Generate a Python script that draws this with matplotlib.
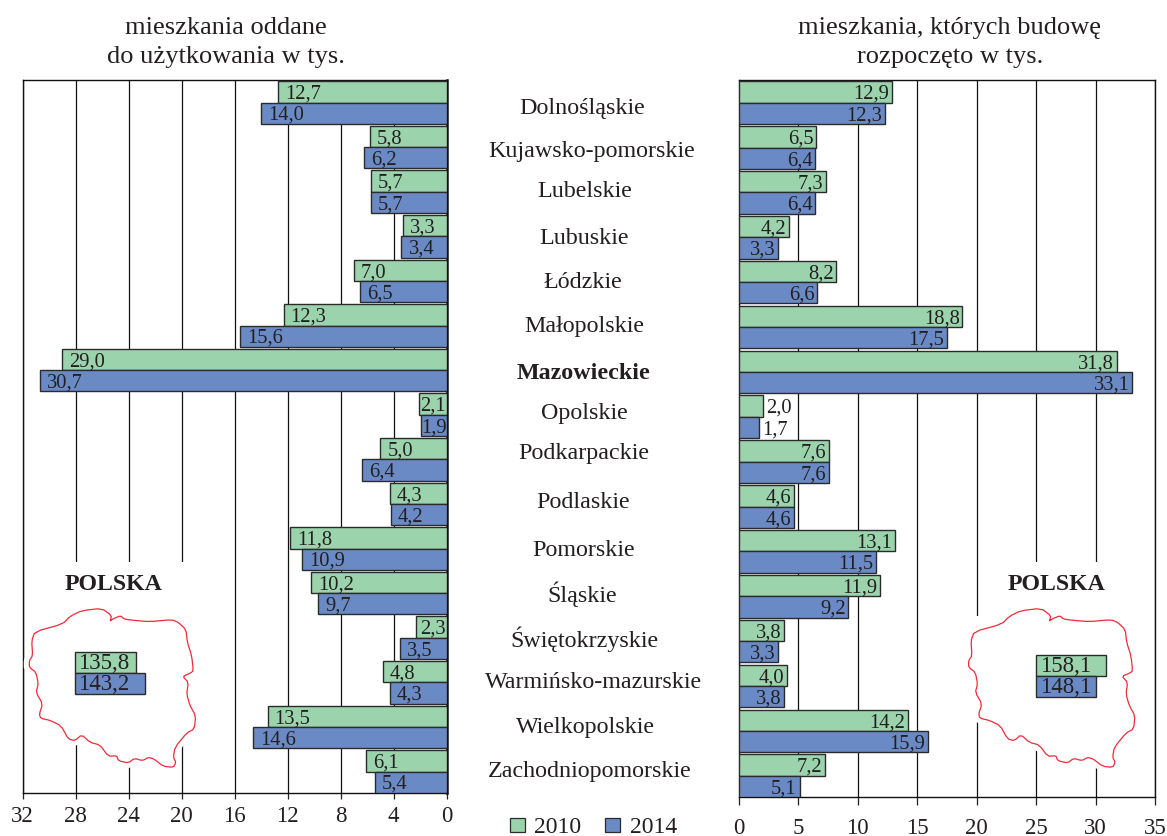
import matplotlib
matplotlib.use("Agg")
import matplotlib.pyplot as plt
from matplotlib.patches import Polygon, Rectangle

plt.rcParams['font.family'] = ['Liberation Serif', 'DejaVu Serif']

# ---- data ----
regions = ["Dolnośląskie", "Kujawsko-pomorskie", "Lubelskie", "Lubuskie", "Łódzkie",
           "Małopolskie", "Mazowieckie", "Opolskie", "Podkarpackie", "Podlaskie",
           "Pomorskie", "Śląskie", "Świętokrzyskie", "Warmińsko-mazurskie",
           "Wielkopolskie", "Zachodniopomorskie"]
finished_2010 = [12.7, 5.8, 5.7, 3.3, 7.0, 12.3, 29.0, 2.1, 5.0, 4.3, 11.8, 10.2, 2.3, 4.8, 13.5, 6.1]
finished_2014 = [14.0, 6.2, 5.7, 3.4, 6.5, 15.6, 30.7, 1.9, 6.4, 4.2, 10.9, 9.7, 3.5, 4.3, 14.6, 5.4]
started_2010 = [12.9, 6.5, 7.3, 4.2, 8.2, 18.8, 31.8, 2.0, 7.6, 4.6, 13.1, 11.9, 3.8, 4.0, 14.2, 7.2]
started_2014 = [12.3, 6.4, 6.4, 3.3, 6.6, 17.5, 33.1, 1.7, 7.6, 4.6, 11.5, 9.2, 3.3, 3.8, 15.9, 5.1]
poland_finished = [135.8, 143.2]
poland_started = [158.1, 148.1]
left_ticks = [32, 28, 24, 20, 16, 12, 8, 4, 0]
right_ticks = [0, 5, 10, 15, 20, 25, 30, 35]
years = ["2010", "2014"]
title_left = "mieszkania oddane\ndo użytkowania w tys."
title_right = "mieszkania, których budowę\nrozpoczęto w tys."

# ---- layout / style (pixels) ----
W, H = 1167, 837
GREEN, BLUE, EDGE, INK = "#9BD3AC", "#6A8AC6", "#2B2B2B", "#231F20"
label_xc = [582, 592, 584.5, 584, 583, 584, 584, 584, 584, 583, 584, 582, 584, 594, 585, 590]
label_yc = [108, 151, 191, 238, 282, 326, 373, 414, 454, 503, 550, 594, 639, 682, 728, 772]
outline_zoom = [(330,187),(338,180),(362,170),(372,180),(400,184),(450,188),(515,182),(535,190),
    (558,212),(562,250),(575,290),(580,335),(572,342),(548,352),(565,370),(560,405),(570,440),
    (587,470),(583,510),(560,522),(525,565),(520,595),(528,610),(520,625),(490,622),(462,600),
    (445,595),(428,605),(403,598),(385,612),(355,605),(350,590),(325,592),(300,558),(270,550),
    (245,527),(225,545),(205,540),(183,500),(150,484),(122,478),(118,465),(128,435),(108,400),
    (115,375),(108,340),(88,325),(88,305),(98,290),(95,245),(105,218),(188,195),(210,172),
    (245,155),(305,148),(335,170)]
outline_px = [(x / 3, 560 + y / 3) for x, y in outline_zoom]

def soften(pts):
    out = []
    n = len(pts)
    for i in range(n):
        (x0, y0), (x1, y1) = pts[i], pts[(i + 1) % n]
        out.append((0.8 * x0 + 0.2 * x1, 0.8 * y0 + 0.2 * y1))
        out.append((0.2 * x0 + 0.8 * x1, 0.2 * y0 + 0.8 * y1))
    return out

outline_px = soften(outline_px)

fig = plt.figure(figsize=(W / 100, H / 100), dpi=100)
fig.patch.set_facecolor("white")

def axes_px(x0, y0, x1, y1, **kw):
    return fig.add_axes([x0 / W, 1 - y1 / H, (x1 - x0) / W, (y1 - y0) / H], **kw)

def panel(box, xlim, ticks, s10, s14, first_c, step, tick_len):
    ax = axes_px(*box)
    ax.set_xlim(*xlim)
    ax.set_ylim((box[3] - first_c) / step, (box[1] - first_c) / step)
    h = 21.3 / step
    ypos = list(range(len(regions)))
    ax.barh([y - h / 2 for y in ypos], s10, height=h, color=GREEN, edgecolor=EDGE, linewidth=1.0, zorder=3)
    ax.barh([y + h / 2 for y in ypos], s14, height=h, color=BLUE, edgecolor=EDGE, linewidth=1.0, zorder=3)
    ax.set_xticks(ticks)
    ax.set_yticks([])
    ax.tick_params(axis="x", length=tick_len, width=0.9, color=INK, labelcolor=INK, labelsize=16.5, pad=3)
    ax.grid(axis="x", color="#111111", linewidth=0.9, zorder=1)
    ax.set_axisbelow(True)
    for s in ax.spines.values():
        s.set_linewidth(1.0)
        s.set_color("#111111")
    return ax, h

axL, hL = panel((22.5, 81, 446.5, 794), (32, 0), left_ticks, finished_2010, finished_2014, 103.5, 44.6, 4.5)
axR, hR = panel((739, 81, 1155, 798), (0, 35), right_ticks, started_2010, started_2014, 103.7, 44.87, 6)
axL.spines["right"].set_linewidth(1.8)
axL.tick_params(axis="x", pad=4)
axR.tick_params(axis="x", pad=8.5)

def fmt(v):
    return f"{v:.1f}".replace(".", ",")

px_per_unit = 424 / 32
for i in range(len(regions)):
    for vals, dy in ((finished_2010, -hL / 2), (finished_2014, hL / 2)):
        room = vals[i] * px_per_unit - 26
        off_px = max(0, min(7, room))
        axL.annotate(fmt(vals[i]), (vals[i], i + dy), xytext=(off_px * 0.72, -1), textcoords="offset points",
                     ha="left", va="center", fontsize=14.8, color=INK, zorder=5)
    for vals, dy in ((started_2010, -hR / 2), (started_2014, hR / 2)):
        outside = vals[i] < 3
        axR.annotate(fmt(vals[i]), (vals[i], i + dy), xytext=(2.5 if outside else -2, -1),
                     textcoords="offset points", ha="left" if outside else "right", va="center",
                     fontsize=14.8, color=INK, zorder=5)

# overlay in pixel coordinates
ov = axes_px(0, 0, W, H)
ov.set_xlim(0, W)
ov.set_ylim(H, 0)
ov.axis("off")
ov.patch.set_alpha(0)

ov.add_patch(Rectangle((30, 563), 165, 90, facecolor="white", edgecolor="none", zorder=1))
ov.add_patch(Rectangle((1005, 563), 130, 90, facecolor="white", edgecolor="none", zorder=1))
ov.add_patch(Rectangle((970, 617), 40, 36, facecolor="white", edgecolor="none", zorder=1))

for dx in (0, 939.3):
    pts = [(x + dx, y) for x, y in outline_px]
    ov.add_patch(Polygon(pts, closed=True, facecolor="white", edgecolor="white", linewidth=8, zorder=2))
    ov.add_patch(Polygon(pts, closed=True, facecolor="white", edgecolor="#EE2B3B", linewidth=0.9, zorder=3))

ov.text(113.5, 584, "POLSKA", ha="center", va="center", fontsize=17.2, fontweight="bold", color=INK, zorder=4)
ov.text(1056.5, 584, "POLSKA", ha="center", va="center", fontsize=17.2, fontweight="bold", color=INK, zorder=4)

ov.text(226, 42.5, title_left, ha="center", va="center", fontsize=19, color=INK, linespacing=1.42)
ov.text(950, 42.5, title_right, ha="center", va="center", fontsize=19, color=INK, linespacing=1.42)

for name, xc, yc in zip(regions, label_xc, label_yc):
    ov.text(xc, yc, name, ha="center", va="center", fontsize=17.3, color=INK,
            fontweight="bold" if name == "Mazowieckie" else "normal")

# legend
for x0, col, lab, tx in ((510, GREEN, years[0], 534), (605, BLUE, years[1], 630)):
    ov.add_patch(Rectangle((x0, 819), 15, 14, facecolor=col, edgecolor=EDGE, linewidth=0.9))
    ov.text(tx, 828, lab, ha="left", va="center", fontsize=17, color=INK)

# national totals: small truncated-scale bar pairs placed on the maps
def totals(x0, width, xlim, vals, y0):
    a = axes_px(x0, y0, x0 + width, y0 + 42)
    a.patch.set_alpha(0)
    a.axis("off")
    a.set_xlim(*xlim)
    a.set_ylim(1, -1)
    a.barh([-0.5, 0.5], [v - xlim[0] for v in vals], height=1, left=xlim[0], color=[GREEN, BLUE],
           edgecolor=EDGE, linewidth=1.0, clip_on=False)
    return a

a1 = totals(75, 70, (85.6, 143.2), poland_finished, 653)
a1.text(0.04, 0.25, fmt(poland_finished[1]), transform=a1.transAxes, ha="left", va="center", fontsize=16.5, color=INK)
a1.text(0.04, 0.75, fmt(poland_finished[0]), transform=a1.transAxes, ha="left", va="center", fontsize=16.5, color=INK)
a2 = totals(1035.5, 70.5, (87.6, 158.1), poland_started, 656)
a2.text(0.06, 0.25, fmt(poland_started[1]), transform=a2.transAxes, ha="left", va="center", fontsize=16.5, color=INK)
a2.text(0.06, 0.75, fmt(poland_started[0]), transform=a2.transAxes, ha="left", va="center", fontsize=16.5, color=INK)

fig.savefig("out.png", dpi=100)
